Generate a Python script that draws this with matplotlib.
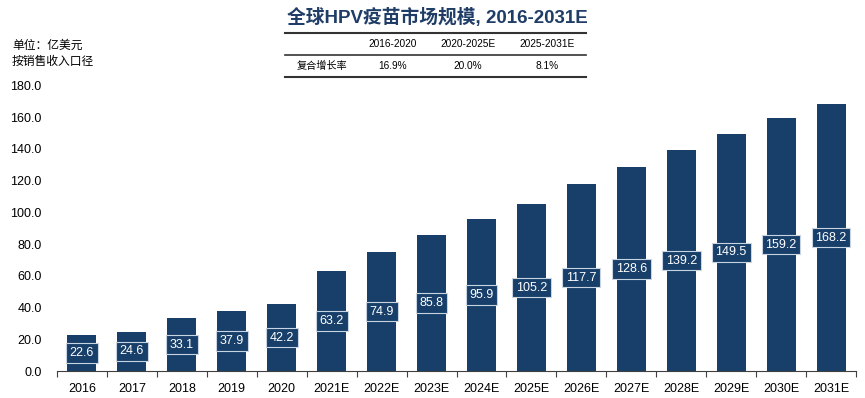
import numpy as np
import matplotlib.pyplot as plt
from matplotlib.ticker import FixedLocator

plt.rcParams['font.family'] = ['Liberation Sans', 'Noto Sans CJK SC', 'DejaVu Sans']

years = ["2016", "2017", "2018", "2019", "2020", "2021E", "2022E", "2023E",
         "2024E", "2025E", "2026E", "2027E", "2028E", "2029E", "2030E", "2031E"]
market = [22.6, 24.6, 33.1, 37.9, 42.2, 63.2, 74.9, 85.8,
          95.9, 105.2, 117.7, 128.6, 139.2, 149.5, 159.2, 168.2]

periods = ["2016-2020", "2020-2025E", "2025-2031E"]
cagr = ["16.9%", "20.0%", "8.1%"]

navy = "#173f69"
fig = plt.figure(figsize=(8.65, 3.98), dpi=100)
ax = fig.add_axes([57 / 865, 1 - 371 / 398, 799 / 865, 285.5 / 398])

x = np.arange(len(years))
ax.bar(x, market, width=0.58, color=navy)
for xi, v in zip(x, market):
    ax.text(xi, v / 2, f"{v:.1f}", ha="center", va="center", color="white", fontsize=9,
            bbox=dict(boxstyle="square,pad=0.3", facecolor=navy, edgecolor="#c9d4e2", linewidth=0.8))

ax.set_xlim(-0.5, len(years) - 0.5)
ax.set_ylim(0, 180)
ax.set_yticks(np.arange(0, 181, 20))
ax.set_yticklabels([f"{t:.1f}" for t in range(0, 181, 20)], fontsize=9)
ax.set_xticks(x)
ax.set_xticklabels(years, fontsize=9)
ax.xaxis.set_minor_locator(FixedLocator(np.arange(-0.5, len(years), 1)))
ax.tick_params(axis="x", which="major", length=0, pad=9)
ax.tick_params(axis="x", which="minor", length=4, color="#404040", width=0.8)
ax.tick_params(axis="y", length=0, pad=11)
for s in ["top", "right", "left"]:
    ax.spines[s].set_visible(False)
ax.spines["bottom"].set_color("#404040")

# title and unit notes
fig.text(437 / 865, 1 - 18 / 398, "全球HPV疫苗市场规模, 2016-2031E", ha="center", va="center",
         fontsize=13.5, fontweight="bold", color="#1f3d66")
fig.text(12 / 865, 1 - 46 / 398, "单位：亿美元", fontsize=8.5, va="center")
fig.text(12 / 865, 1 - 62 / 398, "按销售收入口径", fontsize=8.5, va="center")

# CAGR table
x0, x1 = 285 / 865, 586 / 865
for yy, lw in [(33, 1.5), (55, 1.2), (77, 1.5)]:
    fig.add_artist(plt.Line2D([x0, x1], [1 - yy / 398] * 2, color="#333333", linewidth=lw))
col_x = [393, 468, 547]
for cx, p, c in zip(col_x, periods, cagr):
    fig.text(cx / 865, 1 - 44 / 398, p, ha="center", va="center", fontsize=7.3)
    fig.text(cx / 865, 1 - 66 / 398, c, ha="center", va="center", fontsize=7.3)
fig.text(322 / 865, 1 - 66 / 398, "复合增长率", ha="center", va="center", fontsize=7.3)

fig.savefig("out.png", dpi=100)
